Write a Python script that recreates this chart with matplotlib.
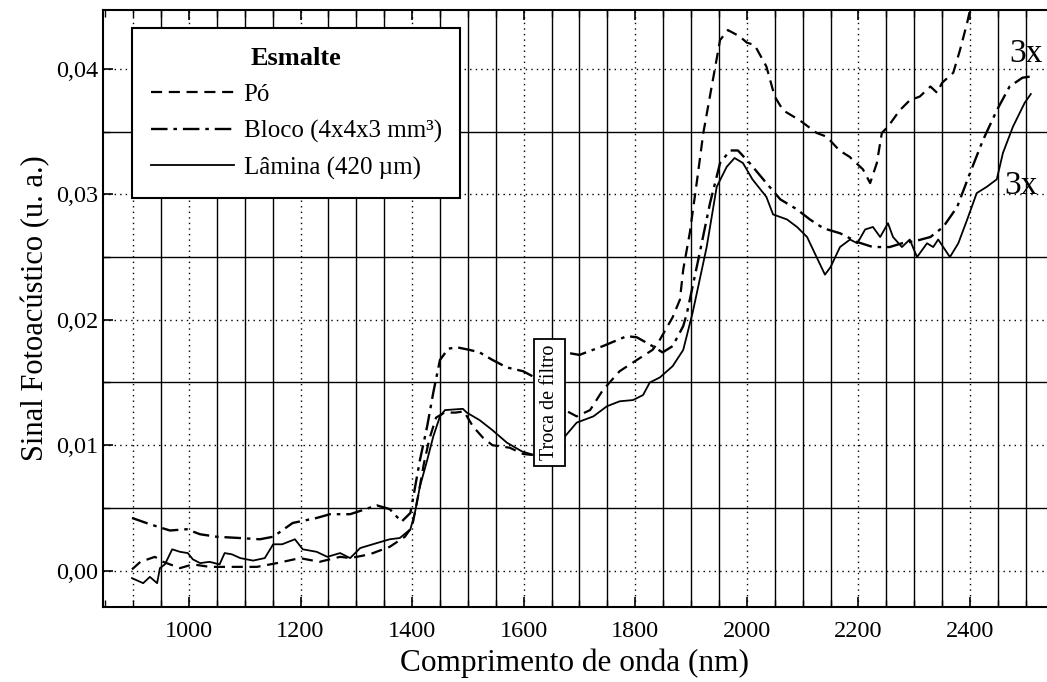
import matplotlib
matplotlib.use("Agg")
import matplotlib.pyplot as plt
from matplotlib.ticker import FuncFormatter, MultipleLocator

plt.rcParams["font.family"] = ["Liberation Serif", "DejaVu Serif"]

# --- dados (nm, u. a.) ---
po_x = [898, 913, 939, 954, 984, 1007, 1037, 1078, 1122, 1158, 1199, 1234, 1271, 1289, 1324,
        1360, 1387, 1400, 1411, 1421, 1431, 1443, 1458, 1478, 1493, 1509, 1527, 1544, 1575, 1599,
        1620, 1674, 1695, 1719, 1742, 1772, 1803, 1831, 1844, 1867, 1880, 1886, 1898, 1911, 1922,
        1937, 1952, 1966, 1987, 2000, 2014, 2035, 2050, 2065, 2095, 2125, 2143, 2166, 2184, 2208,
        2221, 2233, 2242, 2253, 2274, 2292, 2310, 2329, 2341, 2350, 2370, 2382, 2395, 2404]
po_y = [0.0001, 0.0007, 0.0011, 0.0007, 0.0002, 0.0005, 0.0003, 0.0003, 0.0003, 0.0006,
        0.0010, 0.0007, 0.0011, 0.0010, 0.0013, 0.0019, 0.0027, 0.0035, 0.0060, 0.0085,
        0.0105, 0.0122, 0.0126, 0.0126, 0.0127, 0.0115, 0.0106, 0.0100, 0.0098, 0.0093,
        0.0092, 0.0128, 0.0123, 0.0128, 0.0144, 0.0159, 0.0168, 0.0176, 0.0184, 0.0202,
        0.0216, 0.0240, 0.0270, 0.0312, 0.0349, 0.0386, 0.0423, 0.0431, 0.0426, 0.0421,
        0.0419, 0.0402, 0.0378, 0.0367, 0.0359, 0.0349, 0.0346, 0.0335, 0.0330, 0.0320,
        0.0309, 0.0325, 0.0349, 0.0354, 0.0367, 0.0375, 0.0378, 0.0386, 0.0381, 0.0389,
        0.0397, 0.0415, 0.0437, 0.0455]

bloco_x = [898, 930, 966, 996, 1020, 1050, 1091, 1127, 1151, 1186, 1229, 1253, 1289, 1337, 1360,
           1381, 1397, 1414, 1427, 1438, 1450, 1465, 1481, 1503, 1521, 1544, 1570, 1599, 1620, 1674,
           1700, 1742, 1785, 1803, 1831, 1849, 1867, 1886, 1893, 1913, 1934, 1952, 1970, 1984, 2005,
           2035, 2060, 2090, 2113, 2137, 2167, 2198, 2226, 2256, 2278, 2304, 2329, 2352, 2377, 2400,
           2423, 2448, 2471, 2494, 2509]
bloco_y = [0.0042, 0.0037, 0.0032, 0.0033, 0.0029, 0.0027, 0.0026, 0.0025, 0.0027, 0.0038,
           0.0042, 0.0045, 0.0045, 0.0052, 0.0049, 0.0039, 0.0046, 0.0088, 0.0115, 0.0142,
           0.0168, 0.0177, 0.0178, 0.0176, 0.0174, 0.0168, 0.0162, 0.0159, 0.0154, 0.0174,
           0.0172, 0.0179, 0.0187, 0.0186, 0.0179, 0.0174, 0.0179, 0.0195, 0.0206, 0.0248,
           0.0293, 0.0325, 0.0335, 0.0335, 0.0325, 0.0309, 0.0296, 0.0288, 0.0280, 0.0273,
           0.0269, 0.0262, 0.0258, 0.0258, 0.0261, 0.0263, 0.0266, 0.0274, 0.0290, 0.0317,
           0.0343, 0.0367, 0.0386, 0.0393, 0.0394]

lamina_x = [898, 918, 930, 943, 948, 957, 970, 984, 998, 1007, 1020, 1037, 1055, 1064, 1077,
            1092, 1115, 1136, 1151, 1167, 1190, 1204, 1229, 1248, 1271, 1289, 1307, 1337, 1360, 1378,
            1397, 1405, 1414, 1427, 1438, 1450, 1459, 1491, 1498, 1521, 1544, 1570, 1597, 1620, 1674,
            1695, 1725, 1749, 1772, 1796, 1814, 1826, 1844, 1867, 1886, 1903, 1928, 1946, 1964, 1978,
            1993, 2010, 2035, 2047, 2072, 2090, 2108, 2125, 2140, 2150, 2167, 2185, 2198, 2212, 2226,
            2239, 2253, 2262, 2278, 2292, 2305, 2323, 2334, 2343, 2364, 2379, 2395, 2412, 2430, 2448,
            2459, 2477, 2498, 2509]
lamina_y = [-0.0006, -0.0010, -0.0005, -0.0010, 0.0002, 0.0005, 0.0017, 0.0015, 0.0014, 0.0009,
            0.0006, 0.0007, 0.0005, 0.0014, 0.0013, 0.0010, 0.0008, 0.0010, 0.0021, 0.0021,
            0.0025, 0.0017, 0.0015, 0.0011, 0.0014, 0.0010, 0.0018, 0.0022, 0.0025, 0.0026,
            0.0033, 0.0046, 0.0067, 0.0088, 0.0107, 0.0123, 0.0128, 0.0129, 0.0126, 0.0120,
            0.0112, 0.0102, 0.0095, 0.0092, 0.0107, 0.0118, 0.0123, 0.0131, 0.0135, 0.0136,
            0.0140, 0.0150, 0.0154, 0.0163, 0.0176, 0.0206, 0.0258, 0.0306, 0.0322, 0.0329,
            0.0325, 0.0312, 0.0298, 0.0284, 0.0280, 0.0274, 0.0266, 0.0250, 0.0236, 0.0242,
            0.0258, 0.0264, 0.0261, 0.0272, 0.0274, 0.0266, 0.0277, 0.0266, 0.0258, 0.0264,
            0.0250, 0.0261, 0.0258, 0.0264, 0.0250, 0.0261, 0.0280, 0.0301, 0.0306, 0.0312,
            0.0333, 0.0354, 0.0373, 0.0380]

x_ticks = [1000, 1200, 1400, 1600, 1800, 2000, 2200, 2400]
y_ticks = [0.00, 0.01, 0.02, 0.03, 0.04]
grid_v = list(range(900, 2551, 50))
grid_v_dotted = [900] + x_ticks
grid_h_solid = [0.005, 0.015, 0.025, 0.035]

fig = plt.figure(figsize=(10.47, 6.82), dpi=100)
ax = fig.add_axes([103 / 1047, 75 / 682, 944 / 1047, 597 / 682])
ax.set_xlim(846, 2538)
ax.set_ylim(-0.0029, 0.0447)

# grade: verticais a cada 50 nm, horizontais a cada 0,005
for gx in grid_v:
    if gx in grid_v_dotted:
        ax.axvline(gx, color="black", lw=1.0, ls=(0, (1, 3)), zorder=1)
    else:
        ax.axvline(gx, color="black", lw=1.0, zorder=1)
for gy in y_ticks:
    ax.axhline(gy, color="black", lw=1.0, ls=(0, (1, 3)), zorder=1)
for gy in grid_h_solid:
    ax.axhline(gy, color="black", lw=1.0, zorder=1)

l_po, = ax.plot(po_x, po_y, color="black", lw=1.6, ls=(0, (5, 3)), zorder=3)
l_bl, = ax.plot(bloco_x, bloco_y, color="black", lw=1.7, ls=(0, (7, 2.5, 1.5, 2.5)), zorder=3)
l_la, = ax.plot(lamina_x, lamina_y, color="black", lw=1.3, zorder=3)

ax.text(1647, 0.0134, "Troca de filtro", rotation=90, ha="center", va="center",
        fontsize=14.5, zorder=5,
        bbox=dict(boxstyle="square,pad=0.3", fc="white", ec="black", lw=1.3))
ax.text(2500, 0.0412, "3x", fontsize=24, ha="center", va="center", zorder=5)
ax.text(2491, 0.0307, "3x", fontsize=24, ha="center", va="center", zorder=5)

leg = ax.legend([l_po, l_bl, l_la],
                ["Pó", "Bloco (4x4x3 mm³)", "Lâmina (420 µm)"],
                title="Esmalte", loc="upper left", bbox_to_anchor=(0.031, 0.97),
                fontsize=18, title_fontproperties={"weight": "bold", "size": 19},
                frameon=True, fancybox=False, edgecolor="black", framealpha=1,
                handlelength=3.3, borderpad=0.75, labelspacing=0.55, handletextpad=0.4,
                borderaxespad=0)
leg.get_frame().set_linewidth(1.5)
leg.set_zorder(6)

ax.set_xticks(x_ticks)
ax.set_yticks(y_ticks)
ax.yaxis.set_minor_locator(MultipleLocator(0.005))
ax.xaxis.set_minor_locator(MultipleLocator(50))
ax.yaxis.set_major_formatter(FuncFormatter(lambda v, p: f"{v:.2f}".replace(".", ",")))
ax.tick_params(axis="both", which="both", direction="in", labelsize=17.5, top=True)
ax.tick_params(which="major", length=7, width=1.2)
ax.tick_params(which="minor", length=5, width=1.0)
ax.tick_params(axis="x", pad=10)

ax.set_xlabel("Comprimento de onda (nm)", fontsize=22.5, labelpad=5)
ax.set_ylabel("Sinal Fotoacústico (u. a.)", fontsize=22, labelpad=4)

for side in ("left", "bottom", "top"):
    ax.spines[side].set_linewidth(1.5)
ax.spines["right"].set_visible(False)

fig.savefig("out.png", dpi=100)
